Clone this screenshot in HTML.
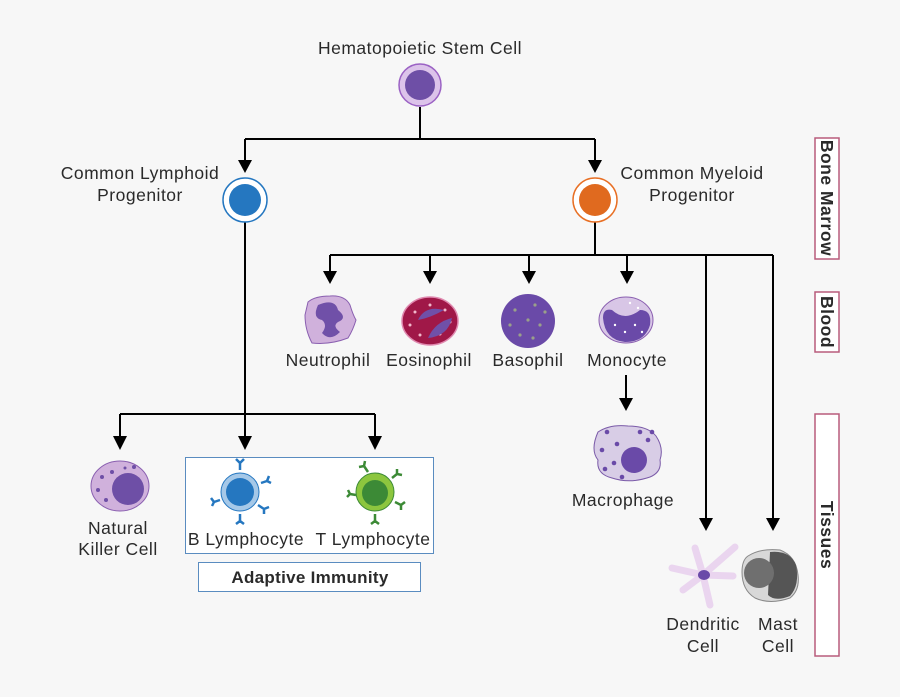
<!DOCTYPE html>
<html><head><meta charset="utf-8"><style>
html,body{margin:0;padding:0;background:#f7f7f7}
svg{display:block}
text{font-family:"Liberation Sans",sans-serif;font-size:17.5px;letter-spacing:0.5px;fill:#2a2a2a}
</style></head><body>
<svg width="900" height="697" viewBox="0 0 900 697" xmlns="http://www.w3.org/2000/svg">
<rect width="900" height="697" fill="#f7f7f7"/>
<g stroke="#000" stroke-width="2" fill="none">
<path d="M420 107V139M245 139H595M245 139V160M595 139V160"/>
<path d="M245 222V440M120 414H375M120 414V438M375 414V438"/>
<path d="M595 222V255M330 255H773M330 255V273M430 255V273M529 255V273M627 255V273M706 255V520M773 255V520"/>
<path d="M626 375V400"/>
</g>
<g fill="#000">
<path d="M238 160H252L245 173Z"/><path d="M588 160H602L595 173Z"/>
<path d="M113 436H127L120 450Z"/><path d="M238 436H252L245 450Z"/><path d="M368 436H382L375 450Z"/>
<path d="M323 271H337L330 284Z"/><path d="M423 271H437L430 284Z"/><path d="M522 271H536L529 284Z"/><path d="M620 271H634L627 284Z"/>
<path d="M619 398H633L626 411Z"/>
<path d="M699 518H713L706 531Z"/><path d="M766 518H780L773 531Z"/>
</g>
<text x="420" y="54" text-anchor="middle">Hematopoietic Stem Cell</text>
<circle cx="420" cy="85" r="21" fill="#dcc3ea" stroke="#9b62c4" stroke-width="1.5"/>
<circle cx="420" cy="85" r="15" fill="#6e4fa6"/>
<circle cx="245" cy="200" r="22" fill="#fff" stroke="#2577c0" stroke-width="1.5"/>
<circle cx="245" cy="200" r="16" fill="#2577c0"/>
<text x="140" y="179" text-anchor="middle">Common Lymphoid</text>
<text x="140" y="201" text-anchor="middle">Progenitor</text>
<circle cx="595" cy="200" r="22" fill="#fff" stroke="#e87025" stroke-width="1.5"/>
<circle cx="595" cy="200" r="16" fill="#e06a1f"/>
<text x="692" y="179" text-anchor="middle">Common Myeloid</text>
<text x="692" y="201" text-anchor="middle">Progenitor</text>
<path d="M308 302 Q315 296 330 296 Q345 295 350 305 Q353 315 356 320 Q353 330 348 338 Q330 345 312 343 Q305 330 305 315Z" fill="#d0b1dc" stroke="#8a5fb0" stroke-width="1"/>
<path d="M318 305 Q335 298 338 310 Q348 318 338 322 Q332 326 340 332 Q330 342 322 333 Q328 325 322 320 Q312 318 318 305Z" fill="#7050a8"/>
<ellipse cx="430" cy="321" rx="28" ry="24" fill="#a01848" stroke="#e08ab0" stroke-width="1.5"/>
<g fill="#f2b8cc"><circle cx="415" cy="312" r="1.5"/><circle cx="440" cy="334" r="1.5"/><circle cx="420" cy="335" r="1.5"/><circle cx="445" cy="310" r="1.5"/><circle cx="410" cy="325" r="1.5"/><circle cx="450" cy="322" r="1.5"/><circle cx="430" cy="305" r="1.5"/></g>
<path d="M418 320 Q425 305 444 310 Q430 318 418 320Z M428 338 Q448 336 452 318 Q435 322 428 338Z" fill="#7050a8"/>
<circle cx="528" cy="321" r="27" fill="#6a4aa8"/>
<g fill="#9aa08a"><circle cx="515" cy="310" r="1.6"/><circle cx="535" cy="305" r="1.6"/><circle cx="540" cy="325" r="1.6"/><circle cx="520" cy="335" r="1.6"/><circle cx="528" cy="320" r="1.6"/><circle cx="545" cy="312" r="1.6"/><circle cx="510" cy="325" r="1.6"/><circle cx="533" cy="338" r="1.6"/></g>
<ellipse cx="626" cy="320" rx="27" ry="23" fill="#d8c6e6" stroke="#8a5fb0" stroke-width="1"/>
<path d="M603 318 Q603 308 612 310 Q625 322 640 310 Q652 310 650 325 Q645 342 625 342 Q605 340 603 318Z" fill="#6a4aa8"/>
<g fill="#fff"><circle cx="615" cy="325" r="1.2"/><circle cx="625" cy="332" r="1.2"/><circle cx="635" cy="325" r="1.2"/><circle cx="642" cy="332" r="1.2"/><circle cx="630" cy="303" r="1.2"/><circle cx="638" cy="308" r="1.2"/></g>
<text x="328" y="366" text-anchor="middle">Neutrophil</text>
<text x="429" y="366" text-anchor="middle">Eosinophil</text>
<text x="528" y="366" text-anchor="middle">Basophil</text>
<text x="627" y="366" text-anchor="middle">Monocyte</text>
<path d="M598 432 Q610 424 628 426 Q648 426 656 436 Q664 448 660 460 Q662 472 650 477 Q630 484 612 478 Q596 474 598 460 Q590 450 598 432Z" fill="#d8cde6" stroke="#7a5aa8" stroke-width="1"/>
<circle cx="634" cy="460" r="13" fill="#6a4aa8"/>
<g fill="#6a4aa8"><circle cx="607" cy="432" r="2.3"/><circle cx="617" cy="444" r="2.3"/><circle cx="648" cy="440" r="2.3"/><circle cx="652" cy="432" r="2.3"/><circle cx="602" cy="450" r="2.3"/><circle cx="614" cy="463" r="2.3"/><circle cx="622" cy="477" r="2.3"/><circle cx="605" cy="469" r="2.3"/><circle cx="640" cy="432" r="2.3"/></g>
<text x="623" y="506" text-anchor="middle">Macrophage</text>
<ellipse cx="120" cy="486" rx="29" ry="25" fill="#d0b1dc" stroke="#8a5fb0" stroke-width="1"/>
<circle cx="128" cy="489" r="16" fill="#6e4fa6"/>
<g fill="#6e4fa6"><circle cx="102" cy="477" r="2"/><circle cx="112" cy="472" r="2"/><circle cx="98" cy="490" r="2"/><circle cx="106" cy="500" r="2"/><circle cx="125" cy="468" r="1.5"/><circle cx="134" cy="467" r="2"/></g>
<text x="118" y="534" text-anchor="middle">Natural</text>
<text x="118" y="555" text-anchor="middle">Killer Cell</text>
<rect x="185.5" y="457.5" width="248" height="96" fill="#fff" stroke="#5a8cc0" stroke-width="1"/>
<g stroke="#2577c0" stroke-width="2.5" fill="none">
<path d="M240 470V463M240 463l-4-4M240 463l4-4M261 483l6-2M267 481l2-5M267 481l4 2M258 505l6 4M264 509l5-2M264 509l0 5M240 514V521M240 521l-4 3M240 521l4 3M220 500l-6 2M214 502l-3-4M214 502l-2 4"/>
</g>
<circle cx="240" cy="492" r="19" fill="#a5c8e8" stroke="#2577c0" stroke-width="1"/>
<circle cx="240" cy="492" r="14" fill="#2577c0"/>
<g stroke="#3c8a36" stroke-width="2.5" fill="none">
<path d="M368 472l-4-6M364 466l-5 1M364 466l1-5M392 478l5-4M397 474l0-5M397 474l5 1M395 502l6 3M401 505l4-3M401 505l0 5M375 514V521M375 521l-4 3M375 521l4 3M356 495l-6-1M350 494l-3 3M350 494l-2-4"/>
</g>
<circle cx="375" cy="492" r="19" fill="#8cc63e" stroke="#3c8a36" stroke-width="1"/>
<circle cx="375" cy="493" r="13" fill="#3c8a36"/>
<text x="246" y="545" text-anchor="middle">B Lymphocyte</text>
<text x="373" y="545" text-anchor="middle">T Lymphocyte</text>
<rect x="198.5" y="562.5" width="222" height="29" fill="#fff" stroke="#5a8cc0" stroke-width="1"/>
<text x="310" y="583" text-anchor="middle" style="font-weight:bold;font-size:17px;letter-spacing:0.3px">Adaptive Immunity</text>
<g stroke="#ead5ef" stroke-width="7" stroke-linecap="round" fill="none">
<path d="M703 575L695 548M703 575L735 547M703 575L733 576M703 575L710 605M703 575L683 590M703 575L672 568"/>
</g>
<ellipse cx="704" cy="575" rx="6" ry="5" fill="#6a4aa8"/>
<path d="M748 556 Q760 548 780 550 Q796 556 798 575 Q800 590 790 598 Q770 605 755 598 Q742 590 742 572 Q742 560 748 556Z" fill="#d8d8d8" stroke="#888" stroke-width="1"/>
<path d="M770 552 Q790 550 796 565 Q800 585 790 596 Q775 602 768 595Z" fill="#555"/>
<circle cx="759" cy="573" r="15" fill="#6f6f6f"/>
<text x="703" y="630" text-anchor="middle">Dendritic</text>
<text x="703" y="652" text-anchor="middle">Cell</text>
<text x="778" y="630" text-anchor="middle">Mast</text>
<text x="778" y="652" text-anchor="middle">Cell</text>
<g fill="#fff" stroke="#b85c7c" stroke-width="1.5">
<rect x="815" y="138" width="24" height="121"/>
<rect x="815" y="292" width="24" height="60"/>
<rect x="815" y="414" width="24" height="242"/>
</g>
<g style="font-weight:bold;font-size:16px;letter-spacing:0.3px">
<text transform="translate(821 198) rotate(90)" text-anchor="middle">Bone Marrow</text>
<text transform="translate(821 322) rotate(90)" text-anchor="middle">Blood</text>
<text transform="translate(821 535) rotate(90)" text-anchor="middle">Tissues</text>
</g>
</svg>
</body></html>
